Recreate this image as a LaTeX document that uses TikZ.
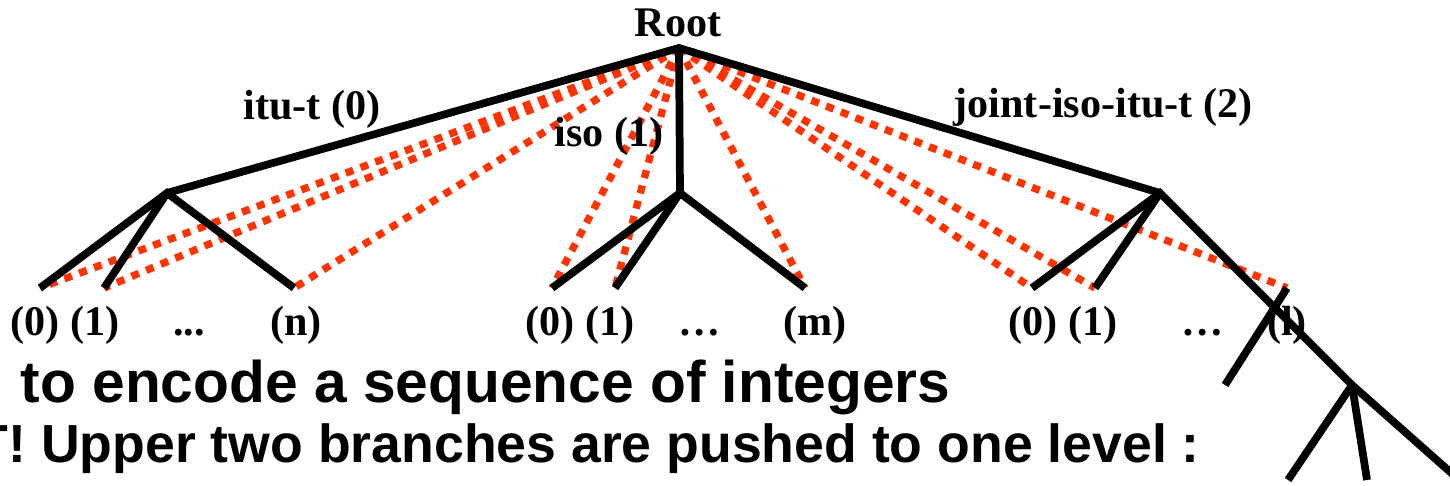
\documentclass[tikz,border=0pt]{standalone}
\usepackage{fontspec}
\setmainfont{Liberation Serif}
\setsansfont{Liberation Sans}
\definecolor{oidred}{HTML}{FF3300}
\tikzset{
  arc/.style={line width=2.2pt, black},
  oidpath/.style={line width=2.1pt, oidred, dash pattern=on 2.3pt off 2.2pt},
  lbl/.style={font=\fontsize{12}{14}\selectfont\bfseries, inner sep=0pt, anchor=base},
  bigtxt/.style={font=\sffamily\bfseries, inner sep=0pt, anchor=base west},
}
\begin{document}
\begin{tikzpicture}
    \useasboundingbox (0,0) rectangle (14.5,4.85);
    \clip (0,0) rectangle (14.5,4.85);
    % tree points
    \coordinate (top) at (6.79,4.37);
    \coordinate (itu) at (1.67,2.92);
    \coordinate (iso) at (6.80,2.92);
    \coordinate (joint) at (11.60,2.92);
    \coordinate (a0) at (0.40,1.97);
    \coordinate (a1) at (1.04,1.97);
    \coordinate (an) at (2.94,1.97);
    \coordinate (b0) at (5.52,1.97);
    \coordinate (b1) at (6.15,1.97);
    \coordinate (bm) at (8.05,1.97);
    \coordinate (c0) at (10.32,1.97);
    \coordinate (c1) at (10.95,1.97);
    \coordinate (cl) at (12.87,1.97);
    \coordinate (dl) at (12.25,1.00);
    \coordinate (d) at (13.52,1.00);
    \coordinate (e0) at (12.88,0.05);
    \coordinate (e1) at (13.67,0.05);
    \coordinate (e2) at (14.75,-0.09);
    % pushed-up paths from the root
    \draw[oidpath] (top) -- (a0);
    \draw[oidpath] (top) -- (a1);
    \draw[oidpath] (top) -- (an);
    \draw[oidpath] (top) -- (b0);
    \draw[oidpath] (top) -- (b1);
    \draw[oidpath] (top) -- (bm);
    \draw[oidpath] (top) -- (c0);
    \draw[oidpath] (top) -- (c1);
    \draw[oidpath] (top) -- (cl);
    % the tree
    \draw[arc] (itu) -- (top) -- (joint);
    \draw[arc] (top) -- (iso);
    \draw[arc] (a0) -- (itu) -- (an);
    \draw[arc] (itu) -- (a1);
    \draw[arc] (b0) -- (iso) -- (bm);
    \draw[arc] (iso) -- (b1);
    \draw[arc] (c0) -- (joint) -- (d);
    \draw[arc] (joint) -- (c1);
    \draw[arc] (cl) -- (dl);
    \draw[arc] (e0) -- (d) -- (e2);
    \draw[arc] (d) -- (e1);
    % labels
    \node[lbl] (rootlbl) at (6.78,4.48) {Root};
    \node[lbl] (itulbl) at (3.12,3.65) {itu-t (0)};
    \node[lbl] (isolbl) at (6.09,3.38) {iso (1)};
    \node[lbl] (jointlbl) at (11.03,3.67) {joint-iso-itu-t (2)};
    \node[lbl] (la0) at (0.35,1.50) {(0)};
    \node[lbl] (la1) at (0.95,1.50) {(1)};
    \node[lbl] (ladots) at (1.89,1.50) {...};
    \node[lbl] (lan) at (2.96,1.50) {(n)};
    \node[lbl] (lb0) at (5.50,1.50) {(0)};
    \node[lbl] (lb1) at (6.10,1.50) {(1)};
    \node[lbl] (lbdots) at (7.00,1.50) {…};
    \node[lbl] (lbm) at (8.15,1.50) {(m)};
    \node[lbl] (lc0) at (10.33,1.50) {(0)};
    \node[lbl] (lc1) at (10.93,1.50) {(1)};
    \node[lbl] (lcdots) at (12.03,1.50) {…};
    \node[lbl] (lcl) at (12.87,1.50) {(l)};
    \node[bigtxt, font=\sffamily\bfseries\fontsize{16.7}{20}\selectfont] (line1) at (0.20,0.83) {to encode a sequence of integers};
    \node[bigtxt, font=\sffamily\bfseries\fontsize{15.25}{18}\selectfont] (line2) at (-0.25,0.23) {T! Upper two branches are pushed to one level :};
\end{tikzpicture}
\end{document}
